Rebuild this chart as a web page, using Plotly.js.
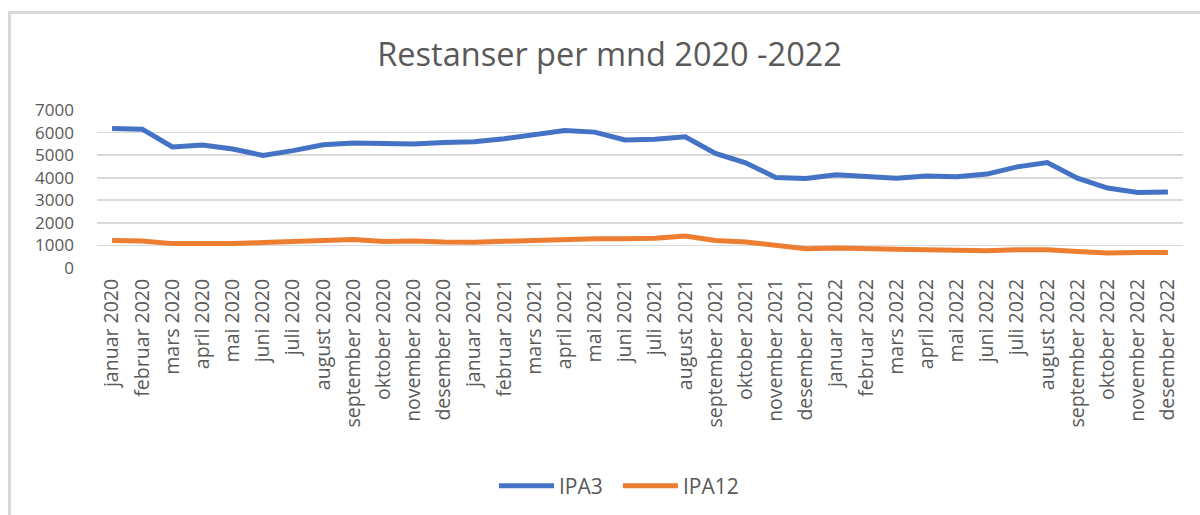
<!DOCTYPE html>
<html>
<head>
<meta charset="utf-8">
<script src="https://cdn.plot.ly/plotly-3.0.1.min.js"></script>
<style>
html,body{margin:0;padding:0;background:#fff;overflow:hidden;}
#chart{position:absolute;left:0;top:0;width:1200px;height:515px;}
#frame{position:absolute;left:8px;top:11px;width:1300px;height:700px;border:3px solid #d9d9d9;pointer-events:none;box-sizing:border-box;}
</style>
</head>
<body>
<div id="chart"></div>
<div id="frame"></div>
<script>
const months = ["januar 2020","februar 2020","mars 2020","april 2020","mai 2020","juni 2020","juli 2020","august 2020","september 2020","oktober 2020","november 2020","desember 2020",
"januar 2021","februar 2021","mars 2021","april 2021","mai 2021","juni 2021","juli 2021","august 2021","september 2021","oktober 2021","november 2021","desember 2021",
"januar 2022","februar 2022","mars 2022","april 2022","mai 2022","juni 2022","juli 2022","august 2022","september 2022","oktober 2022","november 2022","desember 2022"];
const ipa3 = [6180,6150,5360,5450,5275,4990,5200,5460,5540,5490,5490,5560,5590,5730,5900,6090,6020,5670,5700,5815,5080,4660,4010,3970,4130,4030,3980,4080,4040,4160,4480,4670,3980,3540,3350,3370];
const ipa12 = [1215,1200,1080,1070,1080,1125,1185,1200,1260,1170,1200,1155,1140,1185,1230,1260,1300,1300,1320,1420,1215,1155,1000,850,890,835,835,805,775,760,805,805,730,670,685,685];

const font = "'Open Sans', sans-serif";
const grey = "#595959";
const traces = [
  {x: months, y: ipa3, name: "IPA3", type: "scatter", mode: "lines",
   line: {color: "#4472C4", width: 5, shape: "linear"}},
  {x: months, y: ipa12, name: "IPA12", type: "scatter", mode: "lines",
   line: {color: "#ED7D31", width: 5, shape: "linear"}}
];
const layout = {
  width: 1200, height: 515,
  margin: {l: 97, r: 17, t: 110, b: 246},
  paper_bgcolor: "#fff", plot_bgcolor: "#fff",
  title: {text: "Restanser per mnd 2020 -2022", x: 0.508, xref: "container", y: 0.893, yref: "container", yanchor: "middle",
          font: {family: font, size: 32.5, color: grey}},
  xaxis: {type: "category", range: [-0.5, 35.5], tickangle: -90, showgrid: false, zeroline: false, showline: false,
          ticks: "", tickfont: {family: font, size: 19.5, color: grey}, ticklabelstandoff: 6},
  yaxis: {range: [0, 7000], dtick: 1000, tick0: 0, showgrid: true, gridcolor: "#d9d9d9", gridwidth: 1.8,
          zeroline: false, showline: false, ticks: "", tickfont: {family: font, size: 17, color: grey}, ticklabelstandoff: 22},
  showlegend: true,
  legend: {orientation: "h", x: 0.4797, xanchor: "center", y: -1.365, yanchor: "middle",
           font: {family: font, size: 21, color: grey}, itemwidth: 55, entrywidth: 54, traceorder: "normal"}
};
Plotly.newPlot("chart", traces, layout, {displayModeBar: false, staticPlot: true});
</script>
</body>
</html>
